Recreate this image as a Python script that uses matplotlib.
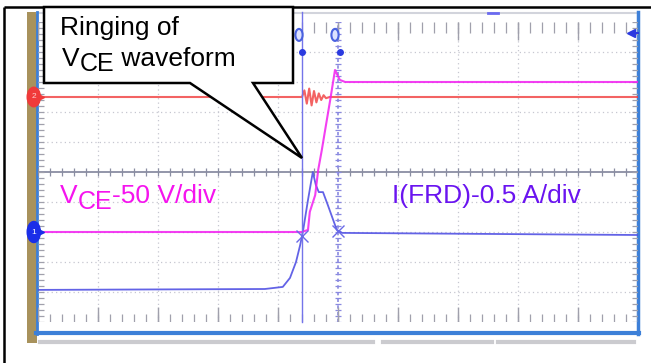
import matplotlib
matplotlib.use('Agg')
import matplotlib.pyplot as plt
from matplotlib.patches import Ellipse, Polygon, Rectangle
import numpy as np

plt.rcParams['font.family'] = ['Liberation Sans', 'DejaVu Sans']

# ---------------- data (oscilloscope divisions: x 0..10, y 0..10) ----------------
red_t = [0, 4.40, 4.44, 4.48, 4.52, 4.56, 4.60, 4.64, 4.68, 4.72, 4.76, 4.80, 4.86, 10]
red_v = [7.5, 7.5, 7.72, 7.28, 7.78, 7.22, 7.70, 7.32, 7.62, 7.40, 7.56, 7.46, 7.5, 7.5]

pink_t = [0, 4.40, 4.50, 4.53, 4.62, 4.67, 4.73, 4.80, 4.87, 4.95, 5.03, 5.12, 10]
pink_v = [3.0, 3.0, 3.07, 3.67, 4.23, 5.07, 5.73, 6.57, 7.40, 8.40, 8.07, 8.0, 8.0]

blue_t = [0, 3.78, 4.08, 4.20, 4.30, 4.37, 4.42, 4.50, 4.58, 4.63, 4.68, 4.75, 4.83, 4.92, 4.98, 5.07, 10]
blue_v = [1.07, 1.10, 1.17, 1.47, 2.0, 2.57, 3.07, 4.07, 5.0, 4.57, 4.33, 4.33, 3.9, 3.4, 3.07, 2.97, 2.9]

cursor_t = [4.40, 5.00]
ch_offsets = [3.0, 7.5]          # CH1 (pink) and CH2 (red) ground markers

label_main = "Ringing of"
label_vce = ["V", "CE", " waveform"]
label_ch1 = ["V", "CE", "-50 V/div"]
label_ch2 = "I(FRD)-0.5 A/div"

# ---------------- layout ----------------
W, H = 651, 363
GX0, GX1, GY0, GY1 = 38, 638, 22, 322

fig = plt.figure(figsize=(W / 100, H / 100), dpi=100)
fig.patch.set_facecolor('white')

bg = fig.add_axes([0, 0, 1, 1], zorder=0)
bg.set_xlim(0, W); bg.set_ylim(H, 0); bg.axis('off')

ax = fig.add_axes([GX0 / W, (H - GY1) / H, (GX1 - GX0) / W, (GY1 - GY0) / H], zorder=1)
ax.set_xlim(0, 10); ax.set_ylim(0, 10); ax.axis('off')

fg = fig.add_axes([0, 0, 1, 1], zorder=2)
fg.set_xlim(0, W); fg.set_ylim(H, 0); fg.axis('off')
fg.patch.set_alpha(0)

# ---------------- scope frame (background) ----------------
bg.plot([4, 651], [7, 7], color='black', lw=1.8, solid_capstyle='butt')
bg.plot([4, 4], [7, 363], color='black', lw=1.8, solid_capstyle='butt')
bg.add_patch(Rectangle((27, 12), 10, 331, color='#a8925c', lw=0))
bg.plot([37, 637], [12.5, 12.5], color='#d2d4dc', lw=1.5)
bg.plot([37, 37], [12, 334], color='#3d80d8', lw=2)
bg.plot([36, 639], [333, 333], color='#3d80d8', lw=3)
bg.plot([637.5, 637.5], [12, 334], color='#3d80d8', lw=2.5)
for a, b in [(40, 373), (383, 492), (498, 634)]:
    bg.plot([a, b], [342, 342], color='#cbcbcf', lw=3)
bg.plot([488, 498], [13, 13], color='#6a6af0', lw=2)

# ---------------- grid ----------------
gcol = '#c6c7d0'
for i in range(1, 10):
    if i != 5:
        ax.axvline(i, color=gcol, lw=0.9, ls=(0, (1, 2.5)))
        ax.axhline(i, color=gcol, lw=0.9, ls=(0, (1, 2.5)))
# center horizontal axis with ticks
ax.axhline(5, color='#8a8ea2', lw=1.3)
mx = np.arange(0, 10.001, 0.2)
ax.vlines(mx, 5 - 0.12, 5 + 0.12, color='#8a8ea2', lw=0.9)
# center vertical axis (dotted) with ticks
ax.axvline(5, color='#8a8ae0', lw=1.2, ls=(0, (2, 2)))
my = np.arange(0, 10.001, 0.2)
ax.hlines(my, 5 - 0.05, 5 + 0.05, color='#8a8ae0', lw=0.9)
# edge ticks
tcol = '#a0a0ac'
ax.vlines(mx, 10 - 0.35, 10, color=tcol, lw=0.9)
ax.vlines(np.arange(0, 10.001, 1), 10 - 0.6, 10, color=tcol, lw=1.0)
ax.vlines(mx, 0, 0.27, color=tcol, lw=0.9)
ax.vlines(np.arange(0, 10.001, 1), 0, 0.5, color=tcol, lw=1.0)
ax.hlines(my, 0, 0.1, color=tcol, lw=0.9)
ax.hlines(my, 10 - 0.1, 10, color=tcol, lw=0.9)

# ---------------- traces ----------------
ax.plot(red_t, red_v, color='#f03c3c', lw=1.5, alpha=0.8, zorder=3)
ax.plot(blue_t, blue_v, color='#5252e4', lw=1.3, alpha=0.9, zorder=4)
ax.plot(pink_t, pink_v, color='#f21ef0', lw=1.5, alpha=0.85, zorder=5)

# ---------------- cursors ----------------
ax.plot([cursor_t[0], cursor_t[0]], [0, 10.33], color='#7474ea', lw=1.0, clip_on=False, zorder=6)
for k, c in enumerate(cursor_t):
    ax.add_patch(Ellipse((c - 0.05, 9.57), 0.12, 0.4, facecolor='#dde2ff', edgecolor='#4a62e0',
                         lw=1.5, clip_on=False, zorder=7))
    ax.plot([c + 0.03 * k], [9.0], 'o', color='#2a3ae0', ms=4, zorder=7)
cy = np.interp(cursor_t, blue_t, blue_v)
ax.plot(cursor_t, cy, 'x', color='#6a6ae8', ms=8, mew=1.0, zorder=7)

# channel ground markers on the left
ax.add_patch(Ellipse((-0.07, ch_offsets[0]), 0.22, 0.7, color='#1a2ee8', clip_on=False, zorder=8))
ax.plot([0.04], [ch_offsets[0]], '>', color='#1a2ee8', ms=6, clip_on=False, zorder=8)
ax.text(-0.07, ch_offsets[0], '1', color='white', fontsize=6, ha='center', va='center', zorder=9)
ax.add_patch(Ellipse((-0.07, ch_offsets[1]), 0.22, 0.65, color='#f03a3a', clip_on=False, zorder=8))
ax.plot([0.04], [ch_offsets[1]], '>', color='#f03a3a', ms=6, clip_on=False, zorder=8)
ax.text(-0.07, ch_offsets[1], '2', color='#ffd0d0', fontsize=6, ha='center', va='center', zorder=9)
# trigger level marker top-right
ax.plot([9.88], [9.63], '<', color='#2a3ae0', ms=6, clip_on=False, zorder=8)
ax.plot([9.88, 10], [9.63, 9.63], color='#2a3ae0', lw=1.5, clip_on=False, zorder=8)

# ---------------- callout ----------------
fg.add_patch(Polygon([(44, 7), (293, 7), (293, 83), (253, 83), (302, 158), (190, 83), (44, 83)],
                     closed=True, facecolor='white', edgecolor='black', lw=1.8, joinstyle='miter',
                     zorder=5))


def seq(x, y, pieces, color, z=10):
    prev = None
    for s, dy, size in pieces:
        if prev is None:
            t = fg.text(x, y + dy, s, fontsize=size, color=color, ha='left', va='baseline', zorder=z)
        else:
            t = fg.annotate(s, xy=(1, y + dy), xycoords=(prev, 'data'), fontsize=size, color=color,
                            ha='left', va='baseline', zorder=z)
        prev = t


fg.text(60, 35, label_main, fontsize=19, color='black', ha='left', va='baseline', zorder=10)
seq(62, 66, [(label_vce[0], 0, 19), (label_vce[1], 5, 18), (label_vce[2], 0, 19)], 'black')
seq(60, 203, [(label_ch1[0], 0, 19), (label_ch1[1], 6, 18), (label_ch1[2], 0, 19)], '#f514ee')
fg.text(392, 203, label_ch2, fontsize=19, color='#6a14f0', ha='left', va='baseline', zorder=10)

fig.savefig('out.png', dpi=100, facecolor='white')
